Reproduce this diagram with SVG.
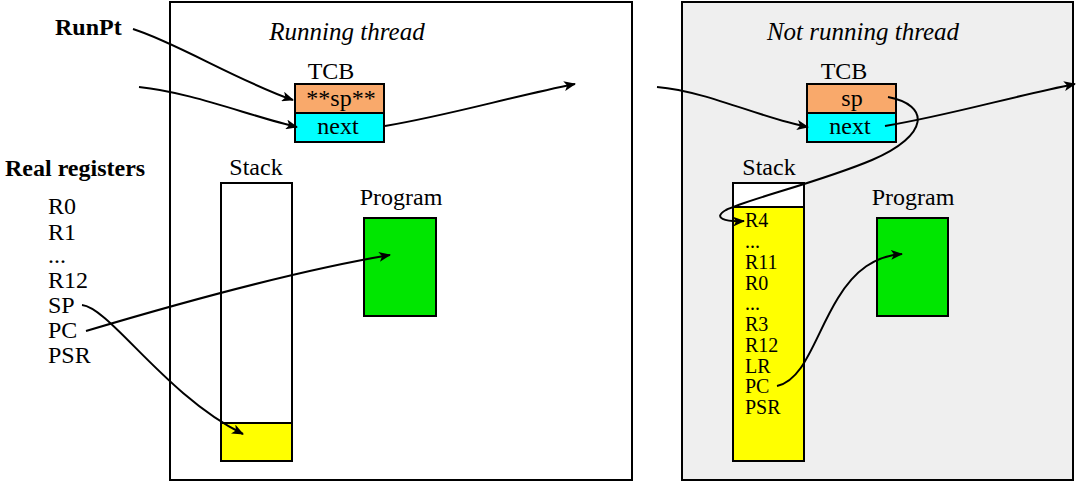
<svg xmlns="http://www.w3.org/2000/svg" width="1080" height="483" viewBox="0 0 1080 483" font-family="'Liberation Serif','Times New Roman','DejaVu Serif',serif">
<defs>
<style>
text{font-family:"Liberation Serif","Times New Roman","DejaVu Serif",serif;font-size:24px;fill:#000}
.b{font-weight:bold}
.i{font-style:italic;font-size:25px}
.c{text-anchor:middle}
.s{font-size:20px}
.box{stroke:#000;stroke-width:2}
.con{fill:none;stroke:#000;stroke-width:2;marker-end:url(#ah)}
</style>
<marker id="ah" viewBox="0 0 12 10" refX="11" refY="5" markerWidth="12" markerHeight="10" markerUnits="userSpaceOnUse" orient="auto">
<path d="M0,0 L12,5 L0,10 L3,5 Z" fill="#000"/>
</marker>
</defs>
<rect width="1080" height="483" fill="#fff"/>
<g id="running-thread">
<rect class="box" x="170" y="2" width="462" height="478" fill="#fff"/>
<text class="i c" x="347" y="40">Running thread</text>
</g>
<g id="not-running-thread">
<rect class="box" x="682" y="2" width="391" height="478" fill="#efefef"/>
<text class="i c" x="863" y="40">Not running thread</text>
</g>
<g id="runpt"><text class="b" x="55" y="35">RunPt</text></g>
<g id="real-registers">
<text class="b" x="5" y="176">Real registers</text>
<text x="48" y="214">R0</text>
<text x="48" y="240">R1</text>
<text x="48" y="263">...</text>
<text x="48" y="288">R12</text>
<text x="48" y="313">SP</text>
<text x="48" y="338">PC</text>
<text x="48" y="363">PSR</text>
</g>
<g id="tcb-left">
<text class="c" x="331" y="79">TCB</text>
<rect class="box" x="295" y="84" width="89" height="29" fill="#f9a96b"/>
<rect class="box" x="295" y="113" width="89" height="29" fill="#00ffff"/>
<text class="c" x="341" y="106">**sp**</text>
<text class="c" x="338" y="134">next</text>
</g>
<g id="stack-left">
<text class="c" x="256" y="175">Stack</text>
<rect class="box" x="221" y="183" width="71" height="240" fill="#fff"/>
<rect class="box" x="221" y="423" width="71" height="38" fill="#ffff00"/>
</g>
<g id="program-left">
<text class="c" x="401" y="205">Program</text>
<rect class="box" x="364" y="218" width="72" height="98" fill="#00e600"/>
</g>
<g id="tcb-right">
<text class="c" x="844" y="79">TCB</text>
<rect class="box" x="807" y="84" width="89" height="29" fill="#f9a96b"/>
<rect class="box" x="807" y="113" width="89" height="29" fill="#00ffff"/>
<text class="c" x="852" y="106">sp</text>
<text class="c" x="850" y="134">next</text>
</g>
<g id="stack-right">
<text class="c" x="769" y="175">Stack</text>
<rect class="box" x="733" y="183" width="71" height="24" fill="#fff"/>
<rect class="box" x="733" y="207" width="71" height="254" fill="#ffff00"/>
<text class="s" x="745" y="227">R4</text>
<text class="s" x="745" y="248">...</text>
<text class="s" x="745" y="269">R11</text>
<text class="s" x="745" y="290">R0</text>
<text class="s" x="745" y="310">...</text>
<text class="s" x="745" y="331">R3</text>
<text class="s" x="745" y="352">R12</text>
<text class="s" x="745" y="373">LR</text>
<text class="s" x="745" y="393">PC</text>
<text class="s" x="745" y="414">PSR</text>
</g>
<g id="program-right">
<text class="c" x="913" y="205">Program</text>
<rect class="box" x="877" y="218" width="71" height="98" fill="#00e600"/>
</g>
<g id="connectors">
<path class="con" d="M133,29 C175,42 240,82 293,100"/>
<path class="con" d="M139,87 C190,92 250,116 297,127"/>
<path class="con" d="M385,126 C450,115 510,97 575,84"/>
<path class="con" d="M82,305 C110,308 165,395 243,434"/>
<path class="con" d="M86,331 C190,300 300,270 390,255"/>
<path class="con" d="M657,87 C710,92 760,118 808,127"/>
<path class="con" d="M885,126 C950,115 1010,97 1075,84"/>
<path class="con" d="M888,97 C930,105 930,135 872,160 C820,182 745,200 726,210 C712,218 725,222 744,221"/>
<path class="con" d="M777,386 C805,380 815,335 838,298 C855,270 875,256 902,254"/>
</g>
</svg>
